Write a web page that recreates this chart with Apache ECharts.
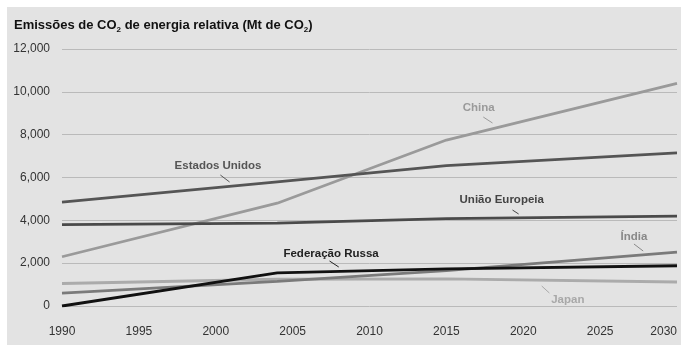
<!DOCTYPE html>
<html>
<head>
<meta charset="utf-8">
<script src="https://cdn.jsdelivr.net/npm/echarts@6/dist/echarts.min.js"></script>
<style>
html,body{margin:0;padding:0;background:#fff;}
#bg{position:absolute;left:7px;top:7px;width:674px;height:338px;background:#e3e3e3;}
#chart{position:absolute;left:0;top:0;width:681px;height:345px;}
</style>
</head>
<body>
<div id="bg"></div>
<div id="chart"></div>
<script>
// Data
const years = [1990, 2004, 2015, 2030];
const china = [2300, 4800, 7750, 10400];
const usa = [4850, 5800, 6550, 7150];
const eu = [3800, 3870, 4080, 4200];
const russia = [0, 1550, 1730, 1880];
const india = [600, 1150, 1650, 2520];
const japan = [1050, 1250, 1270, 1120];

const seriesNames = ['Japan', 'Índia', 'China', 'União Europeia', 'Estados Unidos', 'Federação Russa'];
const seriesValues = [japan, india, china, eu, usa, russia];

// Annotation anchors in data units (year, value)
const labelAt = [[2022.9, 280], [2027.2, 3222], [2017.1, 9245], [2018.6, 4949], [2000.15, 6560], [2007.5, 2451]];
const leaderFrom = [[2021.2, 934], [2027.2, 2895], [2017.4, 8824], [2019.3, 4482], [2000.3, 6116], [2007.4, 2101]];
const leaderTo = [[2021.7, 607], [2027.8, 2568], [2018.0, 8544], [2019.7, 4295], [2000.9, 5790], [2008.0, 1821]];

const lineColors = ['#ababab', '#7a7a7a', '#9a9a9a', '#4a4a4a', '#555555', '#111111'];
const textColors = ['#a8a8a8', '#888888', '#9a9a9a', '#444444', '#555555', '#222222'];

const FONT = 'Liberation Sans, Arial, sans-serif';
const chart = echarts.init(document.getElementById('chart'), null, {renderer: 'canvas'});

const series = seriesNames.map((name, i) => ({
  name: name,
  type: 'line',
  data: years.map((y, j) => [y, seriesValues[i][j]]),
  symbol: 'none',
  lineStyle: {color: lineColors[i], width: 2.8},
  itemStyle: {color: lineColors[i]},
  z: 2 + i,
  markPoint: {
    silent: true,
    symbol: 'circle',
    symbolSize: 1,
    itemStyle: {color: 'rgba(0,0,0,0)'},
    label: {
      show: true, position: 'inside', formatter: name,
      fontFamily: FONT, fontWeight: 'bold', fontSize: 11.5,
      color: textColors[i]
    },
    data: [{coord: labelAt[i]}]
  },
  markLine: {
    silent: true,
    symbol: ['none', 'none'],
    label: {show: false},
    lineStyle: {color: textColors[i], width: 1, type: 'solid'},
    data: [[{coord: leaderFrom[i]}, {coord: leaderTo[i]}]]
  }
}));

chart.setOption({
  animation: false,
  backgroundColor: 'transparent',
  title: {
    left: 9, top: 11,
    text: 'Emissões de CO{sub|2} de energia relativa (Mt de CO{sub|2})',
    textStyle: {
      fontFamily: FONT, fontWeight: 'bold', fontSize: 13, color: '#111',
      rich: {sub: {fontFamily: FONT, fontWeight: 'bold', fontSize: 8, color: '#111', padding: [10, 0, 0, 0]}}
    }
  },
  grid: {left: 62, right: 4, top: 49, bottom: 39, containLabel: false},
  xAxis: {
    type: 'value', min: 1990, max: 2030, interval: 5,
    axisLine: {show: false}, axisTick: {show: false}, splitLine: {show: false},
    axisLabel: {
      color: '#333', fontSize: 12, fontFamily: FONT, margin: 20,
      formatter: v => String(v), alignMaxLabel: 'right'
    }
  },
  yAxis: {
    type: 'value', min: 0, max: 12000, interval: 2000,
    axisLine: {show: false}, axisTick: {show: false},
    splitLine: {lineStyle: {color: '#bababa', width: 1}},
    axisLabel: {
      color: '#333', fontSize: 12, fontFamily: FONT, margin: 12,
      formatter: v => v.toLocaleString('en-US')
    }
  },
  series: series
});
</script>
</body>
</html>
